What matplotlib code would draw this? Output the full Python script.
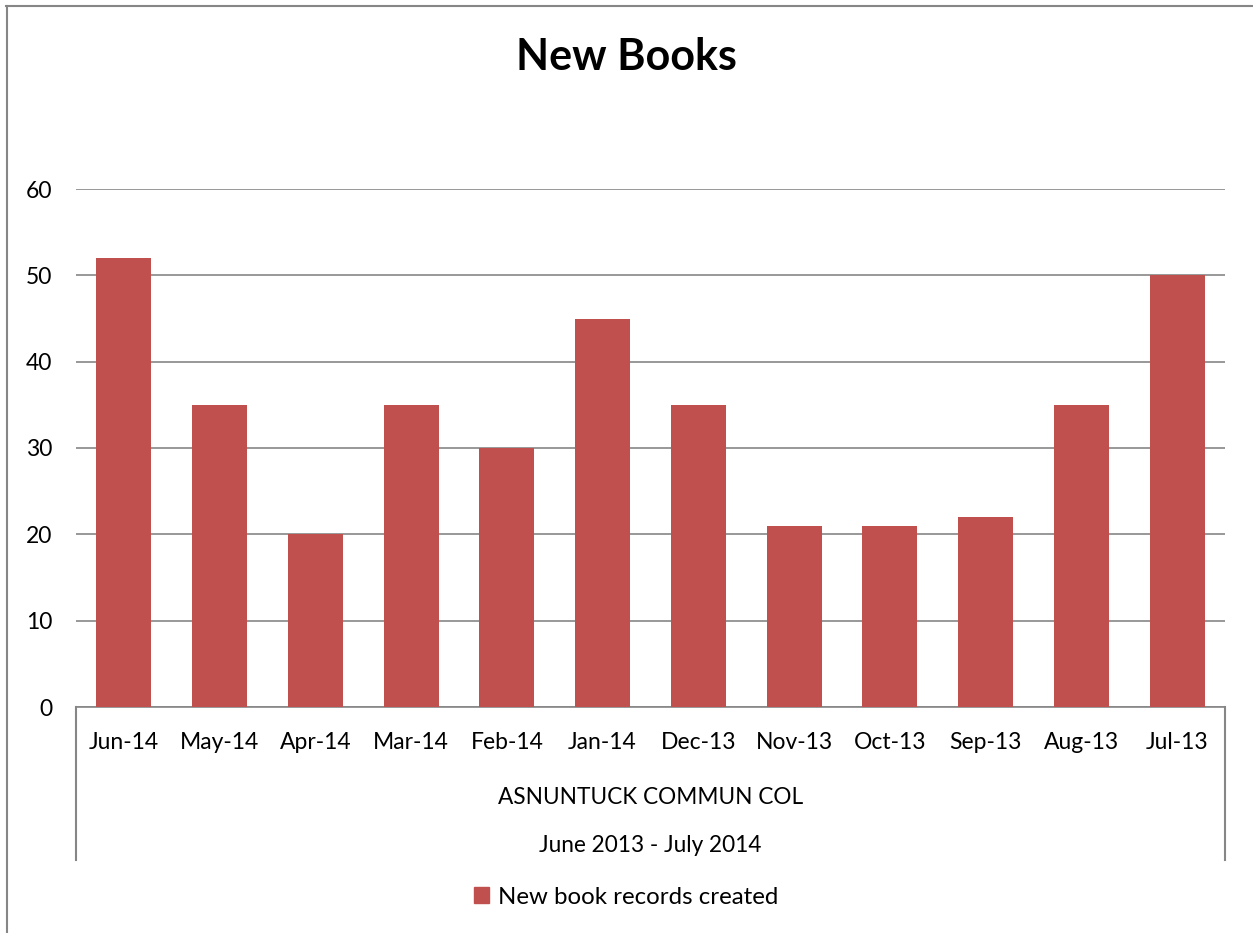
import matplotlib.pyplot as plt
from matplotlib.lines import Line2D
from matplotlib.patches import Patch


months = ["Jun-14", "May-14", "Apr-14", "Mar-14", "Feb-14", "Jan-14",
          "Dec-13", "Nov-13", "Oct-13", "Sep-13", "Aug-13", "Jul-13"]
new_records = [52, 35, 20, 35, 30, 45, 35, 21, 21, 22, 35, 50]
y_ticks = [0, 10, 20, 30, 40, 50, 60]

college = "ASNUNTUCK COMMUN COL"
period = "June 2013 - July 2014"
series_name = "New book records created"
title = "New Books"

BAR_COLOR = "#C0504D"
LINE_GRAY = "#868686"

W, H = 1253, 933

plt.rcParams["font.family"] = ["Lato", "DejaVu Sans"]

fig = plt.figure(figsize=(W / 100, H / 100), dpi=100)

# plot area in pixel terms
left, right, top, bottom = 76, 1225, 189, 707
ax = fig.add_axes([left / W, 1 - bottom / H, (right - left) / W, (bottom - top) / H])

xs = range(len(months))
ax.bar(xs, new_records, width=0.575, color=BAR_COLOR, zorder=3)

ax.set_xlim(-0.5, len(months) - 0.5)
ax.set_ylim(0, 60)
ax.set_yticks(y_ticks)
ax.set_yticklabels([str(t) for t in y_ticks], fontsize=16.5)
ax.set_xticks(list(xs))
ax.set_xticklabels(months, fontsize=16.5)
ax.tick_params(axis="y", length=0, pad=17)
ax.tick_params(axis="x", length=0, pad=18)
ax.yaxis.grid(True, color=LINE_GRAY, linewidth=1.2)
ax.set_axisbelow(True)

for side in ("left", "right", "top"):
    ax.spines[side].set_visible(False)
ax.spines["bottom"].set_color(LINE_GRAY)
ax.spines["bottom"].set_linewidth(1.2)

# second and third category levels below the month labels
ax.text(0.5, -90 / (bottom - top), college, transform=ax.transAxes,
        ha="center", va="center", fontsize=16.3)
ax.text(0.5, -138 / (bottom - top), period, transform=ax.transAxes,
        ha="center", va="center", fontsize=16.3)
for xa in (0, 1):
    ax.add_line(Line2D([xa, xa], [0, -153 / (bottom - top)], transform=ax.transAxes,
                       color=LINE_GRAY, linewidth=1.5, clip_on=False))

fig.suptitle(title, x=0.5, y=1 - 57 / H, va="center", fontsize=31, fontweight="bold")

fig.legend(handles=[Patch(color=BAR_COLOR, label=series_name)],
           loc="center", bbox_to_anchor=(0.5, 1 - 897 / H), frameon=False,
           fontsize=17.3, handlelength=0.6, handleheight=0.6, handletextpad=0.4)

# chart frame (only top and left edges show)
fig.add_artist(Line2D([6 / W, 1], [1 - 5.5 / H, 1 - 5.5 / H], transform=fig.transFigure,
                      color=LINE_GRAY, linewidth=1.5))
fig.add_artist(Line2D([6.5 / W, 6.5 / W], [0, 1 - 5.5 / H], transform=fig.transFigure,
                      color=LINE_GRAY, linewidth=1.5))

fig.savefig("out.png", dpi=100)
